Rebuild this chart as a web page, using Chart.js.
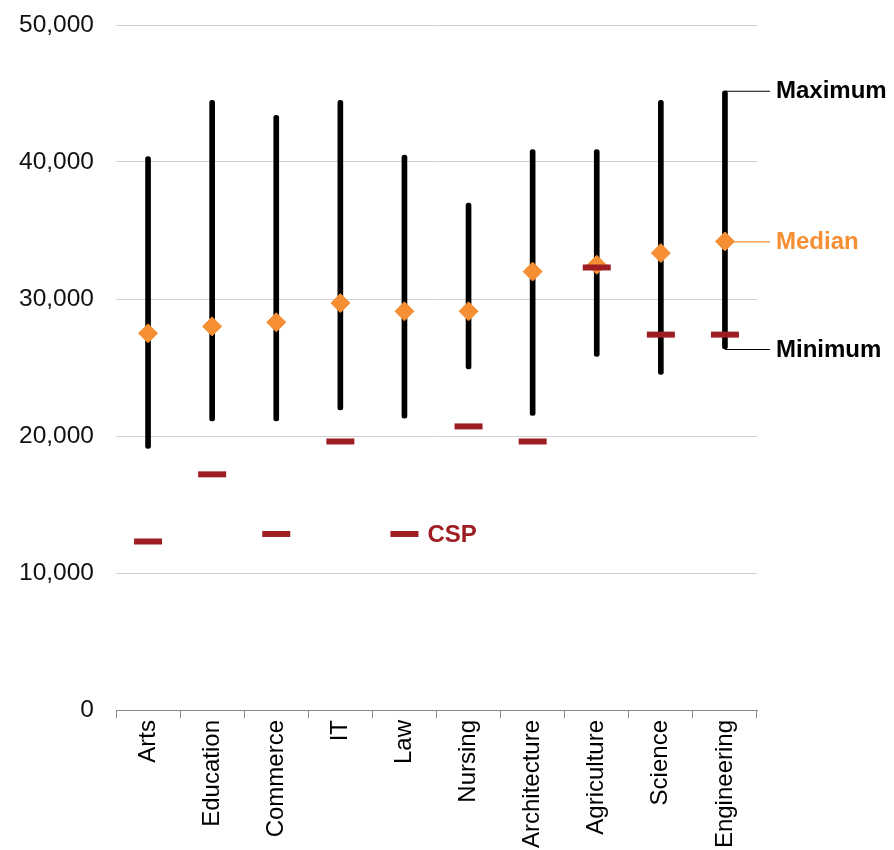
<!DOCTYPE html>
<html>
<head>
<meta charset="utf-8">
<script src="https://cdn.jsdelivr.net/npm/chart.js@4/dist/chart.umd.min.js"></script>
<style>
  html, body { margin: 0; padding: 0; background: #fff; overflow: hidden; }
  #wrap { width: 894px; height: 850px; }
</style>
</head>
<body>
<div id="wrap"><canvas id="c" width="894" height="850"></canvas></div>
<script>
const categories = ["Arts", "Education", "Commerce", "IT", "Law", "Nursing", "Architecture", "Agriculture", "Science", "Engineering"];
const minimum = [19100, 21100, 21100, 21900, 21300, 24900, 21500, 25800, 24500, 26350];
const maximum = [40400, 44500, 43400, 44500, 40500, 37000, 40900, 40900, 44500, 45200];
const median  = [27500, 28000, 28300, 29700, 29100, 29100, 32000, 32500, 33350, 34200];
const csp     = [12300, 17200, 12850, 19600, 12850, 20700, 19600, 32300, 27400, 27400];
const yTicks = [0, 10000, 20000, 30000, 40000, 50000];

const ranges = categories.map((_, i) => [minimum[i], maximum[i]]);
const ORANGE = '#F68E33';
const RED = '#9E1D23';
const FONT = "'Liberation Sans', Arial, sans-serif";

const annotate = {
  id: 'annotate',
  afterDatasetsDraw(chart) {
    const ctx = chart.ctx, x = chart.scales.x, y = chart.scales.y;
    const last = categories.length - 1;
    const cx = x.getPixelForValue(last);
    const lineEnd = 770, textX = 776;
    ctx.save();
    ctx.font = "bold 24px " + FONT;
    ctx.textBaseline = 'middle';
    ctx.lineWidth = 1.2;
    // Maximum
    let yy = y.getPixelForValue(maximum[last]);
    ctx.strokeStyle = '#000';
    ctx.beginPath(); ctx.moveTo(cx, yy + 0.5); ctx.lineTo(lineEnd, yy + 0.5); ctx.stroke();
    ctx.fillStyle = '#000'; ctx.fillText('Maximum', textX, yy + 1);
    // Minimum
    yy = y.getPixelForValue(minimum[last]);
    ctx.beginPath(); ctx.moveTo(cx, yy + 0.5); ctx.lineTo(lineEnd, yy + 0.5); ctx.stroke();
    ctx.fillText('Minimum', textX, yy + 1);
    // Median
    yy = y.getPixelForValue(median[last]);
    ctx.strokeStyle = ORANGE;
    ctx.beginPath(); ctx.moveTo(cx + 8, yy + 0.5); ctx.lineTo(lineEnd, yy + 0.5); ctx.stroke();
    ctx.fillStyle = ORANGE; ctx.fillText('Median', textX, yy + 1);
    // CSP (next to Law)
    const li = categories.indexOf('Law');
    ctx.fillStyle = RED;
    ctx.fillText('CSP', x.getPixelForValue(li) + 23, y.getPixelForValue(csp[li]) + 1);
    ctx.restore();
  }
};

new Chart(document.getElementById('c'), {
  type: 'bar',
  data: {
    labels: categories,
    datasets: [
      {
        label: 'CSP',
        type: 'line',
        data: csp,
        showLine: false,
        pointStyle: 'line',
        pointRadius: 14,
        pointHoverRadius: 14,
        borderColor: RED,
        backgroundColor: RED,
        pointBorderWidth: 6,
        borderWidth: 6,
        order: 0
      },
      {
        label: 'Median',
        type: 'line',
        data: median,
        showLine: false,
        pointStyle: 'rectRot',
        pointRadius: 9.5,
        pointHoverRadius: 9.5,
        pointBackgroundColor: ORANGE,
        pointBorderColor: ORANGE,
        pointBorderWidth: 1,
        order: 1
      },
      {
        label: 'Range',
        data: ranges,
        backgroundColor: '#000',
        borderColor: '#000',
        borderWidth: 0,
        barThickness: 5,
        borderRadius: 2.5,
        borderSkipped: false,
        order: 2
      }
    ]
  },
  options: {
    responsive: false,
    animation: false,
    locale: 'en-US',
    layout: { padding: { top: 25, right: 137, left: 0, bottom: 0 }, autoPadding: false },
    plugins: { legend: { display: false }, tooltip: { enabled: false } },
    scales: {
      x: {
        offset: true,
        grid: { offset: true, drawOnChartArea: false, drawTicks: true, tickLength: 8, color: '#8a8a8a', lineWidth: 1 },
        border: { display: true, color: '#8a8a8a', width: 1 },
        ticks: {
          color: '#000',
          font: { family: FONT, size: 24 },
          maxRotation: 90, minRotation: 90,
          padding: 2,
          autoSkip: false
        },
        afterFit(scale) { scale.height = 140; scale.paddingLeft = 0; scale.paddingRight = 0; }
      },
      y: {
        min: 0, max: 50000,
        afterBuildTicks(scale) { scale.ticks = yTicks.map(v => ({ value: v })); },
        grid: { color: '#cfcfd6', lineWidth: 1, drawTicks: false },
        border: { display: false },
        ticks: {
          color: '#111',
          font: { family: FONT, size: 24.5 },
          padding: 22,
          callback: v => v.toLocaleString('en-US')
        },
        afterFit(scale) { scale.width = 116; scale.paddingTop = 0; scale.paddingBottom = 0; }
      }
    }
  },
  plugins: [annotate]
});
</script>
</body>
</html>
